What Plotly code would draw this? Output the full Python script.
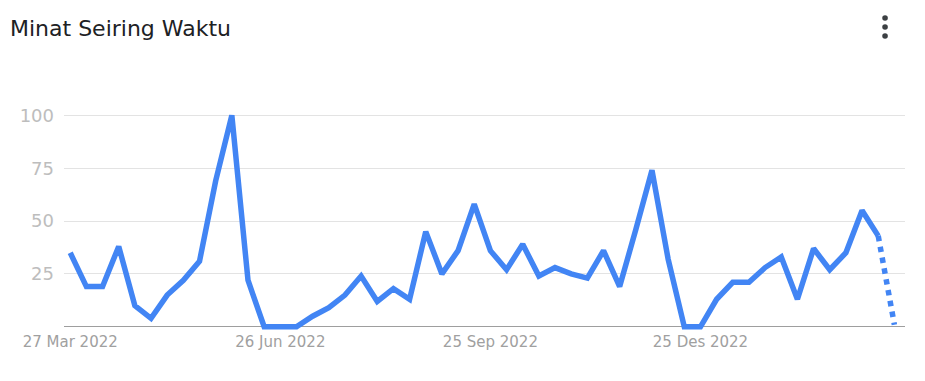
import pandas as pd
import plotly.graph_objects as go

start_date = "2022-03-27"
values = [35, 19, 19, 38, 10, 4, 15, 22, 31, 69, 100, 22, 0, 0, 0, 5, 9, 15, 24, 12,
          18, 13, 45, 25, 36, 58, 36, 27, 39, 24, 28, 25, 23, 36, 19, 46, 74, 32, 0, 0,
          13, 21, 21, 28, 33, 13, 37, 27, 35, 55, 43, 1]
tick_dates = ["2022-03-27", "2022-06-26", "2022-09-25", "2022-12-25"]
tick_labels = ["27 Mar 2022", "26 Jun 2022", "25 Sep 2022", "25 Des 2022"]
y_ticks = [25, 50, 75, 100]
title = "Minat Seiring Waktu"

dates = pd.date_range(start_date, periods=len(values), freq="7D")

# page body has an 8px margin, so the figure is laid out 8px smaller
W, H = 917, 373
L, R, T, B = 54, 20, 101, 50
BLUE = "#4285F4"
FONT = "DejaVu Sans, Arial, sans-serif"

fig = go.Figure()
fig.add_trace(go.Scatter(x=dates[:-1], y=values[:-1], mode="lines",
                         line=dict(color=BLUE, width=5.5), hoverinfo="x+y"))
fig.add_trace(go.Scatter(x=dates[-2:], y=values[-2:], mode="lines",
                         line=dict(color=BLUE, width=5.5, dash="dot"), hoverinfo="x+y"))

x0 = dates[0] - pd.Timedelta(days=2.7)
x1 = dates[-1] + pd.Timedelta(days=4.6)

fig.update_layout(
    width=W, height=H,
    margin=dict(l=L, r=R, t=T, b=B),
    paper_bgcolor="white", plot_bgcolor="white",
    showlegend=False,
    font=dict(family=FONT, color="#9e9e9e"),
    title=dict(text=title, x=2 / W, xanchor="left", xref="container",
               y=1 - 20 / H, yanchor="middle", yref="container",
               font=dict(family=FONT, size=22, color="#202124")),
    xaxis=dict(range=[x0, x1], showgrid=False, zeroline=False, showline=False,
               tickvals=pd.to_datetime(tick_dates), ticktext=tick_labels,
               tickfont=dict(size=15, color="#a0a0a0"), ticks="", ticklabelstandoff=0),
    yaxis=dict(range=[-2, 103], tickvals=y_ticks, showgrid=True, gridcolor="#e3e3e3",
               gridwidth=1, zeroline=True, zerolinecolor="#9e9e9e", zerolinewidth=1,
               showline=False, ticks="", tickfont=dict(size=18, color="#bdbdbd"),
               ticklabelstandoff=9),
)

plot_w = W - L - R
plot_h = H - T - B
for py in [10, 19, 28]:
    fig.add_shape(type="circle", xref="paper", yref="paper",
                  xsizemode="pixel", ysizemode="pixel",
                  xanchor=(877 - L) / plot_w, yanchor=(H - B - py) / plot_h,
                  x0=-2.8, x1=2.8, y0=-2.8, y1=2.8,
                  fillcolor="#3c4043", line=dict(width=0))

fig.write_html("out.html")
